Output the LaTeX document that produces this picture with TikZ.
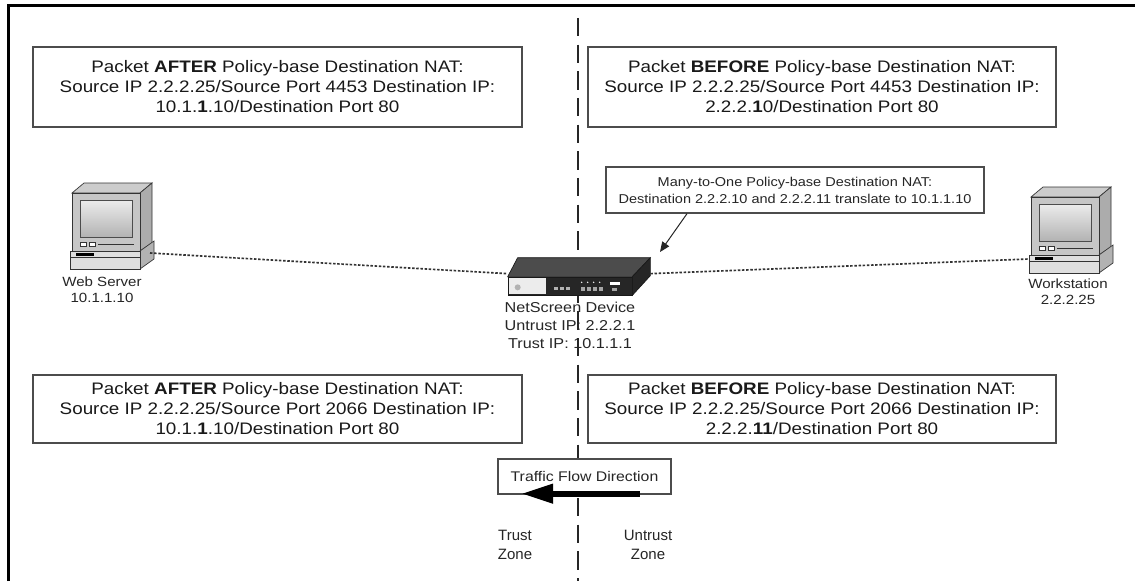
\documentclass[tikz,border=0pt]{standalone}
\usepackage{fontspec}
\setmainfont{Liberation Sans}[FakeStretch=1.13]
\newfontfamily\zonefont{Liberation Sans}
\usetikzlibrary{positioning,calc,arrows.meta}

\tikzset{
  pc/.pic={
    \draw[fill=gray!40,draw=black!80] (0,10) -- (12,0) -- (80,0) -- (68,10) -- cycle;
    \draw[fill=gray!65,draw=black!80] (68,10) -- (80,0) -- (80,60) -- (68,68) -- cycle;
    \draw[fill=gray!45,draw=black!80] (0,10) rectangle (68,68);
    \shade[top color=gray!15,bottom color=gray!60,draw=black!70] (8,17) rectangle (60,54);
    \draw[fill=white,draw=black!80] (8,59) rectangle (14,63);
    \draw[fill=white,draw=black!80] (17,59) rectangle (23,63);
    \draw[black!80] (26,61) -- (62,61);
    \draw[fill=gray!60,draw=black!80] (68,68) -- (82,58) -- (82,76) -- (68,86) -- cycle;
    \draw[fill=gray!25,draw=black!80] (-2,68) rectangle (68,86);
    \draw[black!80] (-2,74) -- (68,74);
    \fill[black] (4,70) rectangle (22,72.5);
    \coordinate (-lport) at (-2,72);
    \coordinate (-rport) at (78,70);
  }
}

\begin{document}
\begin{tikzpicture}[x=0.6pt,y=-0.6pt,
    pktbox/.style={draw=black!70,line width=0.8pt,fill=white,align=center,inner sep=1pt,
      font=\fontsize{10}{12}\selectfont,text=black!90},
    lbl/.style={align=center,inner sep=0pt,font=\fontsize{8}{9.8}\selectfont,text=black!85},
    link/.style={black!80,line width=1pt,dash pattern=on 1.5pt off 1pt},
    zoneline/.style={black!85,line width=1.1pt,dash pattern=on 11pt off 5pt}]
  \useasboundingbox (0,0) rectangle (1135,581);
  \fill[white] (0,0) rectangle (1135,581);
  \draw[line width=1.8pt] (8,581) -- (8,6) -- (1135,6);
  \draw[zoneline] (578,18) -- (578,581);

  \node[pktbox,minimum width=293.4pt,minimum height=48pt] (aftA) at (277.5,87)
    {Packet \textbf{AFTER} Policy-base Destination NAT:\\Source IP 2.2.2.25/Source Port 4453 Destination IP:\\10.1.\textbf{1}.10/Destination Port 80};
  \node[pktbox,minimum width=280.8pt,minimum height=48pt] (befA) at (822,87)
    {Packet \textbf{BEFORE} Policy-base Destination NAT:\\Source IP 2.2.2.25/Source Port 4453 Destination IP:\\2.2.2.\textbf{1}0/Destination Port 80};
  \node[pktbox,minimum width=293.4pt,minimum height=40.8pt] (aftB) at (277.5,409)
    {Packet \textbf{AFTER} Policy-base Destination NAT:\\Source IP 2.2.2.25/Source Port 2066 Destination IP:\\10.1.\textbf{1}.10/Destination Port 80};
  \node[pktbox,minimum width=280.8pt,minimum height=40.8pt] (befB) at (822,409)
    {Packet \textbf{BEFORE} Policy-base Destination NAT:\\Source IP 2.2.2.25/Source Port 2066 Destination IP:\\2.2.2.\textbf{11}/Destination Port 80};

  \node[draw=black!90,fill=black!85,minimum width=74.4pt,minimum height=10.8pt,inner sep=0pt] (nsdev) at (570,286) {};
  \draw[fill=black!70,draw=black!90] (nsdev.north west) -- ++(10,-19) -- ($(nsdev.north east)+(18,-19)$) -- (nsdev.north east) -- cycle;
  \draw[fill=black!85,draw=black!90] (nsdev.north east) -- ++(18,-19) -- ++(0,18) -- (nsdev.south east) -- cycle;
  \fill[gray!15] ($(nsdev.north west)+(1,1)$) rectangle ($(nsdev.south west)+(38,-1)$);
  \fill[gray!60] ($(nsdev.south west)+(10,-8)$) circle (3);
  \foreach \i in {0,...,2}
    \fill[gray!60] ($(nsdev.south west)+(46+6*\i,-5)$) rectangle ++(4,-3);
  \foreach \i in {0,...,3} {
    \fill[white] ($(nsdev.south west)+(74+6*\i,-13)$) circle (0.8);
    \fill[gray!70] ($(nsdev.south west)+(73+6*\i,-4)$) rectangle ++(4,-4);
  }
  \fill[white] ($(nsdev.south west)+(102,-13)$) rectangle ($(nsdev.south west)+(112,-10)$);
  \fill[gray!70] ($(nsdev.south west)+(104,-4)$) rectangle ++(5,-3);
  \node[lbl,below=4pt of nsdev,font=\fontsize{8.6}{10.6}\selectfont] (devlbl) {NetScreen Device\\Untrust IP: 2.2.2.1\\Trust IP: 10.1.1.1};

  \pic (websrv) at (72,183) {pc};
  \pic (wkst) at (1031,187) {pc};
  \node[lbl] (srvlbl) at (102,290) {Web Server\\10.1.1.10};
  \node[lbl] (wkslbl) at (1068,292) {Workstation\\2.2.2.25};

  \draw[link] (websrv-rport) -- ($(nsdev.north west)+(0,-3)$);
  \draw[link] ($(nsdev.north east)+(18,-3)$) -- (wkst-lport);

  \node[draw=black!70,line width=0.8pt,fill=white,align=center,inner sep=2pt,
    font=\fontsize{7.7}{10.2}\selectfont,text=black!85,
    minimum width=226.8pt,minimum height=27.6pt] (natnote) at (795,190)
    {Many-to-One Policy-base Destination NAT:\\Destination 2.2.2.10 and 2.2.2.11 translate to 10.1.1.10};
  \coordinate (nattip) at (660,252);
  \draw[black!85,line width=0.6pt,-{Triangle[length=6pt,width=5pt]}] ($(natnote.south)+(-108,0)$) -- (nattip);

  \node[draw=black!70,line width=0.8pt,fill=white,minimum width=103.8pt,minimum height=21pt,
    font=\fontsize{8.4}{10}\selectfont,text=black!85] (flowbox) at (584.5,476.5) {Traffic Flow Direction};
  \draw[line width=3.6pt,black,-{Triangle[length=19pt,width=11pt]}] ($(flowbox.south east)+(-32,-1)$) -- ($(flowbox.south west)+(24,-1)$);

  \node[lbl,font=\zonefont\fontsize{9}{11.4}\selectfont] (trustz) at (515,545) {Trust\\Zone};
  \node[lbl,font=\zonefont\fontsize{9}{11.4}\selectfont] (untrustz) at (648,545) {Untrust\\Zone};
\end{tikzpicture}
\end{document}
